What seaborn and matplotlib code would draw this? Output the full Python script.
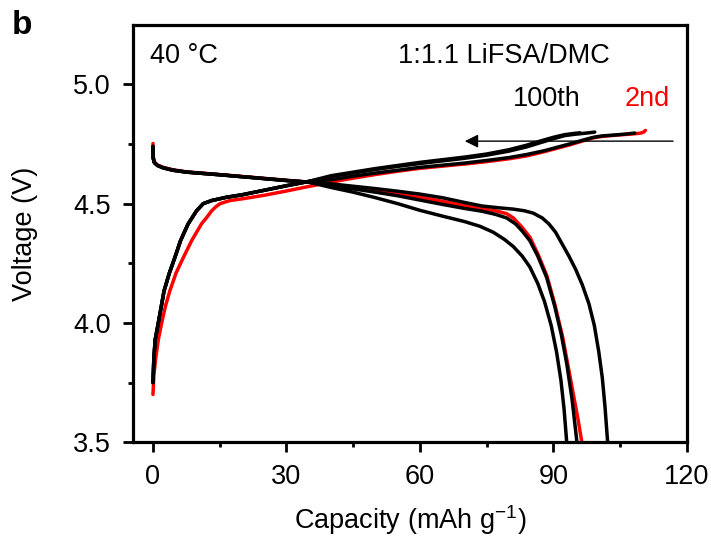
import matplotlib
matplotlib.use("Agg")
import matplotlib.pyplot as plt
import seaborn as sns
import pandas as pd

# ---------------- data (capacity mAh/g, voltage V) ----------------
# 2nd cycle (red)
red_charge_x = [0, 0.2, 0.6, 1.2, 1.95, 2.8, 3.8, 5.2, 6.8, 8.7, 10.9, 12.2, 13.2, 14.2, 15.1, 17.3, 20, 25, 30, 35, 40, 45, 50, 55, 60, 65, 70, 75, 80, 84, 88, 91, 94, 97, 99, 101, 104, 107, 109.5, 110.3, 110.7]
red_charge_v = [3.70, 3.78, 3.85, 3.93, 4.00, 4.07, 4.135, 4.21, 4.273, 4.345, 4.415, 4.445, 4.47, 4.488, 4.50, 4.513, 4.52, 4.535, 4.553, 4.572, 4.59, 4.607, 4.622, 4.636, 4.648, 4.657, 4.666, 4.676, 4.688, 4.70, 4.718, 4.733, 4.748, 4.765, 4.776, 4.782, 4.787, 4.791, 4.795, 4.80, 4.807]
red_dis_x = [0, 0.05, 0.3, 1, 2.3, 4.5, 7.6, 15, 22.5, 30, 35, 40, 45, 50, 55, 60, 65, 70, 74, 77, 79.5, 81, 83, 84.7, 86.5, 88.5, 90.3, 92.1, 93.3, 94.5, 95.5, 96.4]
red_dis_v = [4.752, 4.70, 4.675, 4.662, 4.652, 4.642, 4.633, 4.622, 4.61, 4.598, 4.59, 4.58, 4.568, 4.555, 4.542, 4.527, 4.51, 4.492, 4.478, 4.47, 4.458, 4.44, 4.40, 4.36, 4.29, 4.20, 4.08, 3.94, 3.82, 3.70, 3.60, 3.50]

# black cycles (A: highest discharge capacity, B, C: 100th)
blk_start_x = [0, 0.2, 0.5, 1.2, 2.5, 3.7, 4.9, 6.2, 7.9, 9.8, 11.3, 13.2, 16.6, 20, 25, 30, 35]
blk_start_v = [3.75, 3.853, 3.93, 4.00, 4.135, 4.21, 4.273, 4.345, 4.415, 4.47, 4.50, 4.513, 4.527, 4.537, 4.556, 4.575, 4.593]

blkA_charge_x = blk_start_x + [40, 45, 50, 55, 60, 65, 70, 75, 80, 84, 88, 91, 94, 97, 99, 101, 104, 106.5, 108.3]
blkA_charge_v = blk_start_v + [4.60, 4.615, 4.628, 4.64, 4.652, 4.661, 4.67, 4.681, 4.693, 4.706, 4.722, 4.737, 4.752, 4.768, 4.778, 4.784, 4.788, 4.792, 4.796]
blkB_charge_x = blk_start_x + [40, 45, 50, 55, 60, 65, 70, 75, 80, 84, 87, 90, 92.5, 94.5, 96.5, 98, 99.3]
blkB_charge_v = blk_start_v + [4.613, 4.628, 4.643, 4.656, 4.668, 4.679, 4.69, 4.703, 4.72, 4.738, 4.755, 4.772, 4.785, 4.79, 4.794, 4.797, 4.80]
blkC_charge_x = blk_start_x + [40, 45, 50, 55, 60, 65, 70, 75, 80, 84, 87, 90, 92.5, 94.5, 96]
blkC_charge_v = blk_start_v + [4.617, 4.632, 4.647, 4.66, 4.673, 4.684, 4.695, 4.708, 4.726, 4.745, 4.762, 4.778, 4.789, 4.794, 4.797]

dis_start_x = [0, 0.05, 0.3, 1, 2.3, 4.5, 7.6, 15, 22.5, 30, 35]
dis_start_v = [4.74, 4.69, 4.672, 4.66, 4.65, 4.64, 4.632, 4.621, 4.609, 4.597, 4.59]

blkA_dis_x = dis_start_x + [40, 45, 50, 55, 60, 65, 70, 74, 78, 81, 83.5, 85.5, 87.5, 89, 90.5, 92, 93.5, 95, 96.5, 98, 99.2, 100.2, 101, 101.6, 102.2]
blkA_dis_v = dis_start_v + [4.583, 4.573, 4.563, 4.552, 4.54, 4.525, 4.505, 4.49, 4.482, 4.477, 4.47, 4.46, 4.44, 4.415, 4.38, 4.33, 4.28, 4.225, 4.16, 4.08, 3.99, 3.88, 3.77, 3.65, 3.50]
blkB_dis_x = dis_start_x + [40, 45, 50, 55, 60, 65, 70, 74, 77, 79.5, 81.5, 83, 84.7, 86.5, 88.5, 90.3, 91.8, 93, 94.2, 95.3]
blkB_dis_v = dis_start_v + [4.575, 4.562, 4.548, 4.533, 4.515, 4.497, 4.48, 4.468, 4.455, 4.44, 4.415, 4.385, 4.345, 4.28, 4.19, 4.07, 3.95, 3.83, 3.68, 3.50]
blkC_dis_x = dis_start_x + [40, 45, 50, 55, 60, 65, 70, 73.5, 76.5, 79, 81, 83, 84.7, 86.5, 88, 89.5, 90.7, 91.7, 92.4, 93.0]
blkC_dis_v = dis_start_v + [4.568, 4.548, 4.525, 4.50, 4.472, 4.448, 4.425, 4.405, 4.38, 4.35, 4.32, 4.28, 4.235, 4.165, 4.09, 3.99, 3.88, 3.76, 3.64, 3.50]

x_ticks = [0, 30, 60, 90, 120]
y_ticks = [3.5, 4.0, 4.5, 5.0]

# ---------------- figure ----------------
sns.set_theme(style="ticks")
plt.rcParams['font.family'] = ['Liberation Sans', 'DejaVu Sans']
plt.rcParams['mathtext.fontset'] = 'custom'
plt.rcParams['mathtext.rm'] = 'Liberation Sans'
plt.rcParams['text.color'] = 'black'
plt.rcParams['axes.labelcolor'] = 'black'
plt.rcParams['xtick.color'] = 'black'
plt.rcParams['ytick.color'] = 'black'

FS = 19.5
fig = plt.figure(figsize=(7.11, 5.36), dpi=100)
ax = fig.add_axes([0.187, 0.175, 0.779, 0.778])

curves = [
    (red_charge_x, red_charge_v, "red"),
    (red_dis_x, red_dis_v, "red"),
    (blkA_charge_x, blkA_charge_v, "black"),
    (blkA_dis_x, blkA_dis_v, "black"),
    (blkB_charge_x, blkB_charge_v, "black"),
    (blkB_dis_x, blkB_dis_v, "black"),
    (blkC_charge_x, blkC_charge_v, "black"),
    (blkC_dis_x, blkC_dis_v, "black"),
]
for xs, vs, col in curves:
    df = pd.DataFrame({"cap": xs, "v": vs})
    sns.lineplot(data=df, x="cap", y="v", sort=False, estimator=None,
                 color=col, lw=2.5, ax=ax)

ax.set_xlim(-4.5, 120)
ax.set_ylim(3.5, 5.248)
ax.set_xticks(x_ticks)
ax.set_yticks(y_ticks)
ax.set_xticks([15, 45, 75, 105], minor=True)
ax.set_yticks([3.75, 4.25, 4.75], minor=True)
ax.set_yticklabels([f"{t:.1f}" for t in y_ticks])
ax.tick_params(which="major", direction="out", length=7, width=2, labelsize=FS, pad=9, colors="black")
ax.tick_params(which="minor", direction="out", length=3.5, width=2)
for sp in ax.spines.values():
    sp.set_visible(True)
    sp.set_linewidth(2.3)
    sp.set_color("black")

ax.set_xlabel("Capacity (mAh g$^{-1}$)", fontsize=FS, labelpad=9)
ax.set_ylabel("Voltage (V)", fontsize=FS, labelpad=25)

ax.text(-0.7, 5.12, "40 °C", fontsize=FS, va="center", ha="left")
ax.text(55.1, 5.12, "1:1.1 LiFSA/DMC", fontsize=FS, va="center", ha="left")
ax.text(80.9, 4.94, "100th", fontsize=FS, va="center", ha="left")
ax.text(106.1, 4.94, "2nd", fontsize=FS, va="center", ha="left", color="red")
ax.annotate("", xy=(70.1, 4.762), xytext=(116.9, 4.762),
            arrowprops=dict(arrowstyle="-|>", color="black", lw=1.0,
                            mutation_scale=20, shrinkA=0, shrinkB=0))

fig.text(0.017, 0.953, "b", fontsize=24, fontweight="bold", va="center", ha="left")

fig.savefig("out.png", dpi=100)
